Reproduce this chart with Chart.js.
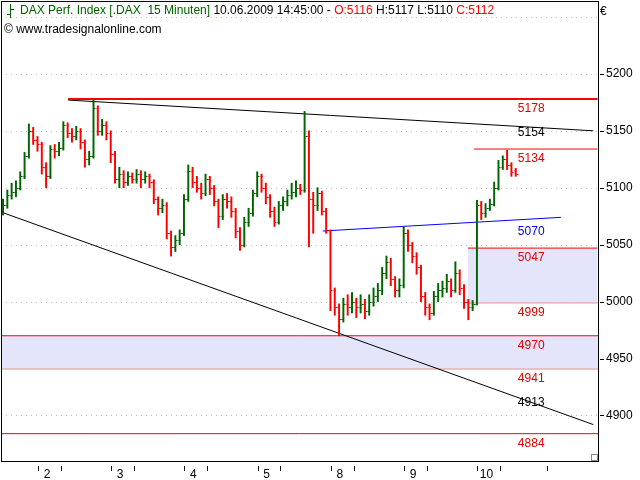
<!DOCTYPE html>
<html lang="de">
<head>
  <meta charset="UTF-8">
  <script src="https://cdn.jsdelivr.net/npm/chart.js"></script>
  <title>DAX 15 Minuten</title>
  <style>
    body { margin: 0; background: #fff; }
    #wrap { width: 640px; height: 480px; }
  </style>
</head>
<body>
<div id="wrap"><canvas id="myChart"></canvas></div>
<script>
// 15-Minuten-Balken (Index 0..119)
const opens  = [5080,5085,5094,5096,5100,5110,5128,5150,5142,5138,5118,5110,5134,5132,5135,5155,5148,5145,5150,5140,
                5125,5128,5170,5150,5155,5148,5130,5108,5112,5105,5110,5108,5112,5108,5110,5105,5090,5082,5085,5060,
                5048,5054,5060,5090,5115,5105,5100,5095,5108,5100,5088,5075,5090,5088,5080,5062,5050,5070,5078,5095,
                5110,5100,5092,5080,5070,5085,5088,5094,5096,5100,5098,5145,5090,5085,5095,5080,5063,5010,4995,4985,
                4998,4995,5000,4995,4998,4992,5000,5005,5010,5025,5035,5020,5010,5015,5060,5050,5040,5030,5005,4995,
                4990,5005,5010,5012,5018,5010,5025,5012,5000,4995,4998,5085,5078,5082,5086,5100,5118,5125,5120,5116];
const highs  = [5090,5098,5104,5106,5114,5131,5156,5153,5145,5140,5122,5137,5138,5140,5158,5157,5152,5154,5152,5142,
                5132,5177,5172,5160,5158,5150,5132,5118,5115,5114,5113,5116,5115,5114,5112,5107,5092,5090,5087,5062,
                5058,5063,5094,5120,5118,5110,5104,5112,5110,5102,5090,5094,5095,5092,5082,5065,5074,5082,5098,5114,
                5112,5104,5094,5083,5088,5092,5098,5104,5106,5103,5167,5150,5096,5100,5097,5082,5063,5012,4998,5003,
                5006,5008,5003,5006,5002,5006,5012,5016,5030,5040,5038,5022,5020,5066,5063,5052,5043,5032,5008,4998,
                5009,5016,5018,5024,5020,5035,5028,5015,5002,5001,5089,5088,5086,5090,5105,5124,5128,5133,5122,5117];
const lows   = [5076,5082,5090,5092,5098,5108,5126,5138,5132,5112,5100,5108,5126,5128,5133,5144,5140,5142,5134,5118,
                5120,5126,5146,5146,5142,5122,5104,5100,5100,5102,5104,5104,5100,5104,5100,5086,5076,5078,5055,5040,
                5044,5050,5058,5088,5100,5096,5090,5093,5094,5084,5065,5072,5082,5074,5056,5045,5048,5066,5075,5092,
                5096,5086,5074,5066,5068,5080,5084,5090,5092,5094,5096,5048,5060,5080,5076,5060,4992,4988,4970,4982,
                4988,4990,4986,4990,4985,4988,4996,5000,5006,5020,5014,5004,5004,5012,5044,5034,5024,5000,4988,4984,
                4988,5000,5004,5008,5004,5008,5006,4994,4984,4992,4997,5072,5074,5080,5084,5098,5116,5116,5110,5110];
const closes = [5085,5094,5096,5100,5110,5128,5150,5142,5138,5118,5110,5134,5132,5135,5155,5148,5145,5150,5140,5125,
                5128,5170,5150,5155,5148,5130,5108,5112,5105,5110,5108,5112,5108,5110,5105,5090,5082,5085,5060,5048,
                5054,5060,5090,5115,5105,5100,5095,5108,5100,5088,5075,5090,5088,5080,5062,5050,5070,5078,5095,5110,
                5100,5092,5080,5070,5085,5088,5094,5096,5100,5098,5145,5090,5085,5095,5080,5063,5010,4995,4985,4998,
                4995,5000,4995,4998,4992,5000,5005,5010,5025,5035,5020,5010,5015,5060,5050,5040,5030,5005,4995,4990,
                5005,5010,5012,5018,5010,5025,5012,5000,4995,4998,5085,5078,5082,5086,5100,5118,5125,5120,5114,5112];

// Handelstage: Beschriftung und Balkenindex des Tagesbeginns
const dayLabels = ['2','3','4','5','8','9','10'];
const dayStart  = [0, 17, 34, 51, 68, 85, 102];

// y-Achse
const yTicks = [4900,4950,5000,5050,5100,5150,5200,5250];

// Linien/Marken: [x1, y1, x2, y2]
const resist5178 = [15.1, 5178, 138, 5178];
const trendTop   = [15.1, 5177, 137, 5150];
const trendLow   = [-0.7, 5079, 137, 4892];
const blueLine   = [74.2, 5062, 129.5, 5074];
const line5134   = [109.3, 5134, 138, 5134];
const box5047    = [107.9, 5047, 138, 4999];
const box4970    = [-1, 4970, 139, 4941];
const line4884   = [-1, 4884, 139, 4884];

// Wertebeschriftungen rechts
const levelVals   = [5178, 5154, 5134, 5070, 5047, 4999, 4970, 4941, 4913, 4884];
const levelColors = ['#e00000','#000000','#e00000','#0000e0','#e00000','#e00000','#e00000','#e00000','#000000','#e00000'];

const green = '#006400', red = '#ff0000', lav = 'rgba(228,228,250,1)';

const barData = opens.map((o, i) => ({ x: i, y: [lows[i], highs[i]] }));
const barColors = opens.map((o, i) => closes[i] >= o ? green : red);

function seg(a, color, w, extra) {
  return Object.assign({
    type: 'line',
    data: [{ x: a[0], y: a[1] }, { x: a[2], y: a[3] }],
    borderColor: color, borderWidth: w, pointRadius: 0, fill: false, order: 2
  }, extra || {});
}

const ohlcPlugin = {
  id: 'ohlc',
  beforeDatasetsDraw(chart) {
    const { ctx, chartArea: a, scales: { y } } = chart;
    ctx.save();
    ctx.strokeStyle = '#c0c0c0';
    ctx.setLineDash([1, 4]);
    ctx.lineWidth = 1;
    yTicks.forEach(v => {
      const py = Math.round(y.getPixelForValue(v)) + 0.5;
      ctx.beginPath(); ctx.moveTo(a.left, py); ctx.lineTo(a.right, py); ctx.stroke();
    });
    ctx.restore();
  },
  afterDatasetsDraw(chart) {
    const { ctx, chartArea: a, scales: { x, y } } = chart;
    ctx.save();
    ctx.lineWidth = 1;
    opens.forEach((o, i) => {
      const px = Math.round(x.getPixelForValue(i)) + 0.5;
      ctx.strokeStyle = barColors[i];
      const po = Math.round(y.getPixelForValue(o)) + 0.5;
      const pc = Math.round(y.getPixelForValue(closes[i])) + 0.5;
      ctx.beginPath();
      ctx.moveTo(px - 2, po); ctx.lineTo(px, po);
      ctx.moveTo(px, pc); ctx.lineTo(px + 2, pc);
      ctx.stroke();
    });
    // Wertebeschriftung
    ctx.font = '12px "Liberation Sans", Arial, sans-serif';
    ctx.textAlign = 'center';
    ctx.textBaseline = 'middle';
    const lx = x.getPixelForValue(122.6);
    levelVals.forEach((v, k) => {
      ctx.fillStyle = levelColors[k];
      let py = y.getPixelForValue(v) + 10;
      if (v === 5154) py = y.getPixelForValue(v) + 6;
      if (v === 4913) py = y.getPixelForValue(v) + 2;
      ctx.fillText(String(v), lx, py);
    });
    // Rahmen
    ctx.strokeStyle = '#000';
    ctx.strokeRect(a.left + 0.5, a.top + 0.5, a.right - a.left, a.bottom - a.top);
    // y-Achsen-Striche
    yTicks.slice(0, 7).forEach(v => {
      const py = Math.round(y.getPixelForValue(v)) + 0.5;
      ctx.beginPath(); ctx.moveTo(a.right + 2, py); ctx.lineTo(a.right + 6, py); ctx.stroke();
    });
    // Ziehgriff
    ctx.strokeStyle = '#888';
    ctx.strokeRect(a.right - 6.5, a.bottom - 6.5, 6, 6);
    ctx.strokeStyle = '#000';
    // x-Achse
    ctx.fillStyle = '#000';
    ctx.textBaseline = 'top';
    dayStart.forEach((d, k) => {
      const p1 = Math.round(x.getPixelForValue(d + 8.1)) + 0.5;
      const p2 = Math.round(x.getPixelForValue(d + 13.4)) + 0.5;
      ctx.beginPath();
      ctx.moveTo(p1, a.bottom + 5); ctx.lineTo(p1, a.bottom + 10);
      ctx.moveTo(p2, a.bottom + 5); ctx.lineTo(p2, a.bottom + 10);
      ctx.stroke();
      ctx.fillText(dayLabels[k], x.getPixelForValue(d + 10.2), a.bottom + 8);
    });
    const p3 = Math.round(x.getPixelForValue(126.3)) + 0.5;
    ctx.beginPath(); ctx.moveTo(p3, a.bottom + 5); ctx.lineTo(p3, a.bottom + 10); ctx.stroke();
    // Kopfzeile
    ctx.textAlign = 'left';
    ctx.textBaseline = 'middle';
    let tx = 20;
    const parts = [
      ['DAX Perf. Index [.DAX  15 Minuten] ', green], ['10.06.2009 14:45:00 - ', '#000'],
      ['O:5116 ', red], ['H:5117 L:5110 ', '#000'], ['C:5112', red]
    ];
    parts.forEach(p => { ctx.fillStyle = p[1]; ctx.fillText(p[0], tx, 11); tx += ctx.measureText(p[0]).width; });
    ctx.fillStyle = '#000';
    ctx.fillText('\u00a9 www.tradesignalonline.com', 4, 30);
    ctx.fillText('\u20ac', 600, 12);
    ctx.strokeStyle = green;
    ctx.beginPath();
    ctx.moveTo(10.5, 4); ctx.lineTo(10.5, 18);
    ctx.moveTo(7, 14.5); ctx.lineTo(10.5, 14.5);
    ctx.moveTo(10.5, 9.5); ctx.lineTo(14, 9.5);
    ctx.stroke();
    ctx.restore();
  }
};

new Chart(document.getElementById('myChart'), {
  type: 'bar',
  data: {
    datasets: [
      { type: 'bar', data: barData, backgroundColor: barColors, barThickness: 1.3, order: 0 },
      seg(resist5178, red, 2),
      seg(trendTop, '#000', 1),
      seg(trendLow, '#000', 1),
      seg(blueLine, '#0000ff', 1),
      seg(line5134, red, 1),
      seg([box5047[0], box5047[1], box5047[2], box5047[1]], red, 1, { fill: '+1', backgroundColor: lav, order: 3 }),
      seg([box5047[0], box5047[3], box5047[2], box5047[3]], red, 1, { order: 3 }),
      seg([box4970[0], box4970[1], box4970[2], box4970[1]], red, 1, { fill: '+1', backgroundColor: lav, order: 3 }),
      seg([box4970[0], box4970[3], box4970[2], box4970[3]], red, 1, { order: 3 }),
      seg(line4884, red, 1)
    ]
  },
  options: {
    responsive: true,
    maintainAspectRatio: false,
    animation: false,
    layout: { padding: { left: 1, top: 1, bottom: 19, right: 0 } },
    plugins: { legend: { display: false }, tooltip: { enabled: false } },
    scales: {
      x: { type: 'linear', min: -0.47, max: 138.1, display: false, offset: false },
      y: {
        position: 'right', min: 4860, max: 5264,
        afterBuildTicks: s => { s.ticks = yTicks.map(v => ({ value: v })); },
        afterFit: s => { s.width = 42; s.paddingTop = 0; s.paddingBottom = 0; },
        grid: { display: false, drawOnChartArea: false },
        border: { display: false },
        ticks: {
          color: '#000', padding: 0,
          font: { family: '"Liberation Sans", Arial, sans-serif', size: 12 },
          callback: v => v === 5250 ? '' : v
        }
      }
    }
  },
  plugins: [ohlcPlugin]
});
</script>
</body>
</html>
